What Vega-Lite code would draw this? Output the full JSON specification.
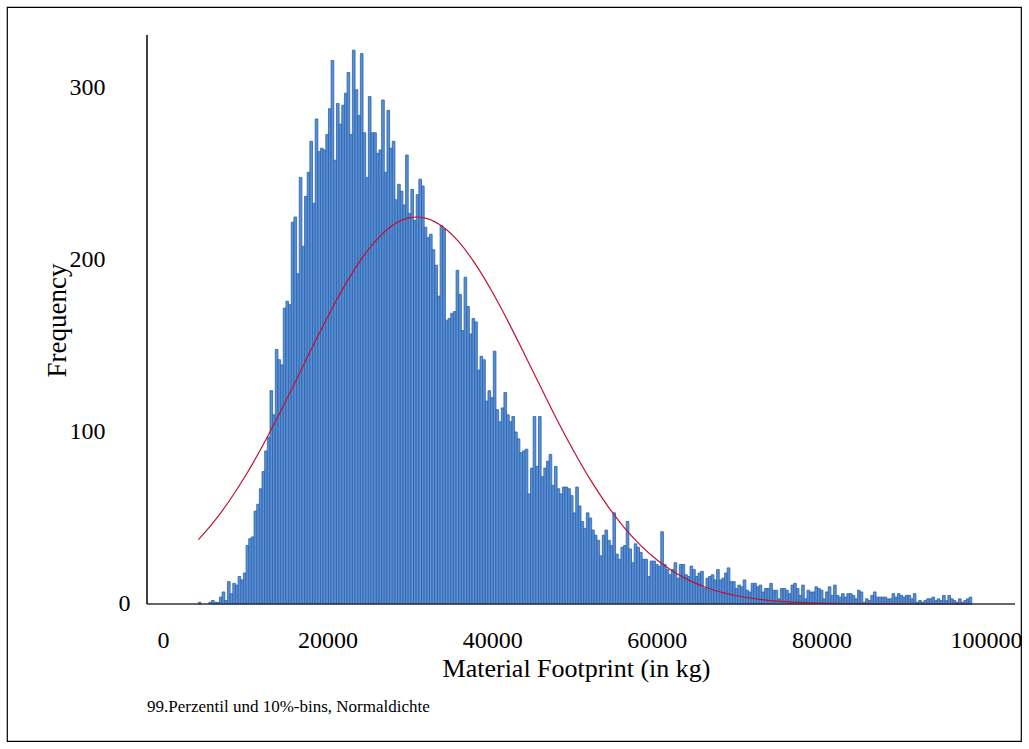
{
"$schema": "https://vega.github.io/schema/vega-lite/v6.json",
"autosize": {"type": "none"},
"padding": {"left": 7, "top": 7, "right": 8, "bottom": 8},
"width": 1014,
"height": 734,
"background": "white",
"config": {"view": {"stroke": "black", "strokeWidth": 1.2}, "font": "Liberation Serif"},
"datasets": {
"bars": [
{"lo":4280,"hi":4603,"n":1},{"lo":5572,"hi":5895,"n":1},{"lo":5895,"hi":6218,"n":2},{"lo":6218,"hi":6541,"n":1},{"lo":6541,"hi":6864,"n":1},{"lo":6864,"hi":7187,"n":4},{"lo":7187,"hi":7510,"n":7},
{"lo":7510,"hi":7833,"n":2},{"lo":7833,"hi":8156,"n":13},{"lo":8156,"hi":8479,"n":6},{"lo":8479,"hi":8802,"n":12},{"lo":8802,"hi":9125,"n":11},{"lo":9125,"hi":9448,"n":16},{"lo":9448,"hi":9771,"n":14},{"lo":9771,"hi":10094,"n":18},{"lo":10094,"hi":10417,"n":34},{"lo":10417,"hi":10740,"n":38},
{"lo":10740,"hi":11063,"n":39},{"lo":11063,"hi":11386,"n":54},{"lo":11386,"hi":11709,"n":58},{"lo":11709,"hi":12032,"n":67},{"lo":12032,"hi":12355,"n":77},{"lo":12355,"hi":12678,"n":89},{"lo":12678,"hi":13001,"n":97},{"lo":13001,"hi":13324,"n":124},{"lo":13324,"hi":13647,"n":110},{"lo":13647,"hi":13970,"n":148},
{"lo":13970,"hi":14293,"n":142},{"lo":14293,"hi":14616,"n":139},{"lo":14616,"hi":14939,"n":172},{"lo":14939,"hi":15262,"n":176},{"lo":15262,"hi":15585,"n":174},{"lo":15585,"hi":15908,"n":222},{"lo":15908,"hi":16231,"n":225},{"lo":16231,"hi":16554,"n":192},{"lo":16554,"hi":16877,"n":248},{"lo":16877,"hi":17200,"n":208},
{"lo":17200,"hi":17523,"n":237},{"lo":17523,"hi":17846,"n":251},{"lo":17846,"hi":18169,"n":269},{"lo":18169,"hi":18492,"n":233},{"lo":18492,"hi":18815,"n":282},{"lo":18815,"hi":19138,"n":263},{"lo":19138,"hi":19461,"n":265},{"lo":19461,"hi":19784,"n":264},{"lo":19784,"hi":20107,"n":273},{"lo":20107,"hi":20430,"n":288},
{"lo":20430,"hi":20753,"n":316},{"lo":20753,"hi":21076,"n":258},{"lo":21076,"hi":21399,"n":291},{"lo":21399,"hi":21722,"n":279},{"lo":21722,"hi":22045,"n":290},{"lo":22045,"hi":22368,"n":297},{"lo":22368,"hi":22691,"n":309},{"lo":22691,"hi":23014,"n":273},{"lo":23014,"hi":23337,"n":322},{"lo":23337,"hi":23660,"n":299},
{"lo":23660,"hi":23983,"n":284},{"lo":23983,"hi":24306,"n":320},{"lo":24306,"hi":24629,"n":274},{"lo":24629,"hi":24952,"n":248},{"lo":24952,"hi":25275,"n":295},{"lo":25275,"hi":25598,"n":274},{"lo":25598,"hi":25921,"n":274},{"lo":25921,"hi":26244,"n":262},{"lo":26244,"hi":26567,"n":264},{"lo":26567,"hi":26890,"n":293},
{"lo":26890,"hi":27213,"n":251},{"lo":27213,"hi":27536,"n":287},{"lo":27536,"hi":27859,"n":265},{"lo":27859,"hi":28182,"n":269},{"lo":28182,"hi":28505,"n":235},{"lo":28505,"hi":28828,"n":244},{"lo":28828,"hi":29151,"n":240},{"lo":29151,"hi":29474,"n":232},{"lo":29474,"hi":29797,"n":261},{"lo":29797,"hi":30120,"n":227},
{"lo":30120,"hi":30443,"n":241},{"lo":30443,"hi":30766,"n":223},{"lo":30766,"hi":31089,"n":238},{"lo":31089,"hi":31412,"n":247},{"lo":31412,"hi":31735,"n":243},{"lo":31735,"hi":32058,"n":219},{"lo":32058,"hi":32381,"n":213},{"lo":32381,"hi":32704,"n":215},{"lo":32704,"hi":33027,"n":206},{"lo":33027,"hi":33350,"n":197},
{"lo":33350,"hi":33673,"n":179},{"lo":33673,"hi":33996,"n":220},{"lo":33996,"hi":34319,"n":218},{"lo":34319,"hi":34642,"n":165},{"lo":34642,"hi":34965,"n":166},{"lo":34965,"hi":35288,"n":169},{"lo":35288,"hi":35611,"n":170},{"lo":35611,"hi":35934,"n":194},{"lo":35934,"hi":36257,"n":180},{"lo":36257,"hi":36580,"n":159},
{"lo":36580,"hi":36903,"n":190},{"lo":36903,"hi":37226,"n":173},{"lo":37226,"hi":37549,"n":157},{"lo":37549,"hi":37872,"n":166},{"lo":37872,"hi":38195,"n":164},{"lo":38195,"hi":38518,"n":136},{"lo":38518,"hi":38841,"n":144},{"lo":38841,"hi":39164,"n":142},{"lo":39164,"hi":39487,"n":118},{"lo":39487,"hi":39810,"n":124},
{"lo":39810,"hi":40133,"n":120},{"lo":40133,"hi":40456,"n":147},{"lo":40456,"hi":40779,"n":113},{"lo":40779,"hi":41102,"n":106},{"lo":41102,"hi":41425,"n":114},{"lo":41425,"hi":41748,"n":123},{"lo":41748,"hi":42071,"n":110},{"lo":42071,"hi":42394,"n":106},{"lo":42394,"hi":42717,"n":109},{"lo":42717,"hi":43040,"n":100},
{"lo":43040,"hi":43363,"n":96},{"lo":43363,"hi":43686,"n":88},{"lo":43686,"hi":44009,"n":89},{"lo":44009,"hi":44332,"n":90},{"lo":44332,"hi":44655,"n":64},{"lo":44655,"hi":44978,"n":79},{"lo":44978,"hi":45301,"n":109},{"lo":45301,"hi":45624,"n":80},{"lo":45624,"hi":45947,"n":109},{"lo":45947,"hi":46270,"n":74},
{"lo":46270,"hi":46593,"n":79},{"lo":46593,"hi":46916,"n":83},{"lo":46916,"hi":47239,"n":87},{"lo":47239,"hi":47562,"n":69},{"lo":47562,"hi":47885,"n":80},{"lo":47885,"hi":48208,"n":67},{"lo":48208,"hi":48531,"n":64},{"lo":48531,"hi":48854,"n":68},{"lo":48854,"hi":49177,"n":68},{"lo":49177,"hi":49500,"n":67},
{"lo":49500,"hi":49823,"n":63},{"lo":49823,"hi":50146,"n":53},{"lo":50146,"hi":50469,"n":68},{"lo":50469,"hi":50792,"n":57},{"lo":50792,"hi":51115,"n":48},{"lo":51115,"hi":51438,"n":44},{"lo":51438,"hi":51761,"n":53},{"lo":51761,"hi":52084,"n":50},{"lo":52084,"hi":52407,"n":43},{"lo":52407,"hi":52730,"n":40},
{"lo":52730,"hi":53053,"n":37},{"lo":53053,"hi":53376,"n":28},{"lo":53376,"hi":53699,"n":40},{"lo":53699,"hi":54022,"n":43},{"lo":54022,"hi":54345,"n":37},{"lo":54345,"hi":54668,"n":34},{"lo":54668,"hi":54991,"n":53},{"lo":54991,"hi":55314,"n":29},{"lo":55314,"hi":55637,"n":26},{"lo":55637,"hi":55960,"n":33},
{"lo":55960,"hi":56283,"n":34},{"lo":56283,"hi":56606,"n":48},{"lo":56606,"hi":56929,"n":32},{"lo":56929,"hi":57252,"n":24},{"lo":57252,"hi":57575,"n":35},{"lo":57575,"hi":57898,"n":33},{"lo":57898,"hi":58221,"n":30},{"lo":58221,"hi":58544,"n":26},{"lo":58544,"hi":58867,"n":26},{"lo":58867,"hi":59190,"n":16},
{"lo":59190,"hi":59513,"n":25},{"lo":59513,"hi":59836,"n":25},{"lo":59836,"hi":60159,"n":23},{"lo":60159,"hi":60482,"n":22},{"lo":60482,"hi":60805,"n":42},{"lo":60805,"hi":61128,"n":23},{"lo":61128,"hi":61451,"n":20},{"lo":61451,"hi":61774,"n":17},{"lo":61774,"hi":62097,"n":20},{"lo":62097,"hi":62420,"n":24},
{"lo":62420,"hi":62743,"n":15},{"lo":62743,"hi":63066,"n":23},{"lo":63066,"hi":63389,"n":23},{"lo":63389,"hi":63712,"n":17},{"lo":63712,"hi":64035,"n":16},{"lo":64035,"hi":64358,"n":22},{"lo":64358,"hi":64681,"n":20},{"lo":64681,"hi":65004,"n":16},{"lo":65004,"hi":65327,"n":18},{"lo":65327,"hi":65650,"n":19},
{"lo":65650,"hi":65973,"n":9},{"lo":65973,"hi":66296,"n":15},{"lo":66296,"hi":66619,"n":16},{"lo":66619,"hi":66942,"n":17},{"lo":66942,"hi":67265,"n":14},{"lo":67265,"hi":67588,"n":20},{"lo":67588,"hi":67911,"n":14},{"lo":67911,"hi":68234,"n":15},{"lo":68234,"hi":68557,"n":18},{"lo":68557,"hi":68880,"n":21},
{"lo":68880,"hi":69203,"n":13},{"lo":69203,"hi":69526,"n":13},{"lo":69526,"hi":69849,"n":9},{"lo":69849,"hi":70172,"n":11},{"lo":70172,"hi":70495,"n":10},{"lo":70495,"hi":70818,"n":14},{"lo":70818,"hi":71141,"n":8},{"lo":71141,"hi":71464,"n":7},{"lo":71464,"hi":71787,"n":12},{"lo":71787,"hi":72110,"n":12},
{"lo":72110,"hi":72433,"n":10},{"lo":72433,"hi":72756,"n":11},{"lo":72756,"hi":73079,"n":7},{"lo":73079,"hi":73402,"n":9},{"lo":73402,"hi":73725,"n":9},{"lo":73725,"hi":74048,"n":12},{"lo":74048,"hi":74371,"n":8},{"lo":74371,"hi":74694,"n":8},{"lo":74694,"hi":75017,"n":3},{"lo":75017,"hi":75340,"n":9},
{"lo":75340,"hi":75663,"n":9},{"lo":75663,"hi":75986,"n":8},{"lo":75986,"hi":76309,"n":6},{"lo":76309,"hi":76632,"n":11},{"lo":76632,"hi":76955,"n":12},{"lo":76955,"hi":77278,"n":9},{"lo":77278,"hi":77601,"n":5},{"lo":77601,"hi":77924,"n":11},{"lo":77924,"hi":78247,"n":3},{"lo":78247,"hi":78570,"n":8},
{"lo":78570,"hi":78893,"n":7},{"lo":78893,"hi":79216,"n":7},{"lo":79216,"hi":79539,"n":10},{"lo":79539,"hi":79862,"n":9},{"lo":79862,"hi":80185,"n":8},{"lo":80185,"hi":80508,"n":3},{"lo":80508,"hi":80831,"n":7},{"lo":80831,"hi":81154,"n":10},{"lo":81154,"hi":81477,"n":5},{"lo":81477,"hi":81800,"n":11},
{"lo":81800,"hi":82123,"n":5},{"lo":82123,"hi":82446,"n":4},{"lo":82446,"hi":82769,"n":6},{"lo":82769,"hi":83092,"n":4},{"lo":83092,"hi":83415,"n":6},{"lo":83415,"hi":83738,"n":6},{"lo":83738,"hi":84061,"n":5},{"lo":84061,"hi":84384,"n":3},{"lo":84384,"hi":84707,"n":8},{"lo":84707,"hi":85030,"n":7},
{"lo":85030,"hi":85353,"n":1},{"lo":85353,"hi":85676,"n":3},{"lo":85676,"hi":85999,"n":2},{"lo":85999,"hi":86322,"n":5},{"lo":86322,"hi":86645,"n":7},{"lo":86645,"hi":86968,"n":4},{"lo":86968,"hi":87291,"n":4},{"lo":87291,"hi":87614,"n":4},{"lo":87614,"hi":87937,"n":4},{"lo":87937,"hi":88260,"n":3},
{"lo":88260,"hi":88583,"n":3},{"lo":88583,"hi":88906,"n":6},{"lo":88906,"hi":89229,"n":4},{"lo":89229,"hi":89552,"n":6},{"lo":89552,"hi":89875,"n":5},{"lo":89875,"hi":90198,"n":4},{"lo":90198,"hi":90521,"n":5},{"lo":90521,"hi":90844,"n":5},{"lo":90844,"hi":91167,"n":3},{"lo":91167,"hi":91490,"n":6},
{"lo":91490,"hi":91813,"n":1},{"lo":91813,"hi":92136,"n":2},{"lo":92136,"hi":92459,"n":1},{"lo":92459,"hi":92782,"n":2},{"lo":92782,"hi":93105,"n":3},{"lo":93105,"hi":93428,"n":3},{"lo":93428,"hi":93751,"n":4},{"lo":93751,"hi":94074,"n":2},{"lo":94074,"hi":94397,"n":3},{"lo":94397,"hi":94720,"n":2},
{"lo":94720,"hi":95043,"n":5},{"lo":95043,"hi":95366,"n":2},{"lo":95366,"hi":95689,"n":5},{"lo":95689,"hi":96012,"n":3},{"lo":96012,"hi":96335,"n":2},{"lo":96335,"hi":96658,"n":1},{"lo":96658,"hi":96981,"n":3},{"lo":96981,"hi":97304,"n":1},{"lo":97304,"hi":97627,"n":2},{"lo":97627,"hi":97950,"n":3},
{"lo":97950,"hi":98273,"n":4}
],
"curve": [
{"x":4300,"y":37.4},{"x":6000,"y":46.7},{"x":8000,"y":59.6},{"x":10000,"y":74.4},{"x":12000,"y":91.1},{"x":14000,"y":109.3},{"x":16000,"y":128.4},{"x":18000,"y":147.9},{"x":20000,"y":166.9},{"x":22000,"y":184.5},{"x":24000,"y":199.8},{"x":26000,"y":212.0},{"x":28000,"y":220.5},{"x":30000,"y":224.6},{"x":30826,"y":225.0},{"x":32000,"y":224.2},{"x":34000,"y":219.3},{"x":36000,"y":210.2},{"x":38000,"y":197.3},{"x":40000,"y":181.5},{"x":42000,"y":163.6},{"x":44000,"y":144.5},{"x":46000,"y":125.1},{"x":48000,"y":106.0},{"x":50000,"y":88.1},{"x":52000,"y":71.7},{"x":54000,"y":57.2},{"x":56000,"y":44.7},{"x":58000,"y":34.2},{"x":60000,"y":25.7},{"x":62000,"y":18.9},{"x":64000,"y":13.6},{"x":66000,"y":9.6},{"x":68000,"y":6.6},{"x":70000,"y":4.5},{"x":72000,"y":3.0},{"x":75000,"y":1.55},{"x":78000,"y":0.77},{"x":81000,"y":0.37},{"x":84000,"y":0.17},{"x":88000,"y":0.05},{"x":92000,"y":0.01},{"x":98273,"y":0}
],
"xline": [{"a":-1944,"b":103524,"v":0}],
"yline": [{"a":-1944,"v0":0,"v1":330.8}],
"zero": [{"a":-4678,"v":0,"t":"0"}],
"note": [{"a":-1944,"v":-59.9,"t":"99.Perzentil und 10%-bins, Normaldichte"}]
},
"layer": [
{
"data": {"name": "bars"},
"mark": {"type": "rect", "fill": "#5b8fd3", "stroke": "#2a62ad", "strokeWidth": 0.8},
"encoding": {
"x": {"field": "lo", "type": "quantitative", "title": "Material Footprint (in kg)",
"scale": {"domain": [-18955, 104253], "nice": false, "zero": false},
"axis": {"values": [0, 20000, 40000, 60000, 80000, 100000], "format": "d", "offset": -137, "domain": false, "ticks": false, "grid": false, "labelFontSize": 24, "labelColor": "black", "labelFont": "Liberation Serif", "labelPadding": 24, "labelFlush": false, "labelOverlap": false, "titleFont": "Liberation Serif", "titleFontSize": 26, "titleFontWeight": "normal", "titleColor": "black", "titleX": 569, "titleY": 64, "titleBaseline": "middle", "titleAnchor": null}},
"x2": {"field": "hi"},
"y": {"field": "n", "type": "quantitative", "title": "Frequency",
"scale": {"domain": [-79.65, 347.09], "nice": false, "zero": false},
"axis": {"values": [100, 200, 300], "offset": -140, "domain": false, "ticks": false, "grid": false, "labelFontSize": 24, "labelColor": "black", "labelFont": "Liberation Serif", "labelPadding": 42, "labelFlush": false, "labelOverlap": false, "titleFont": "Liberation Serif", "titleFontSize": 27, "titleFontWeight": "normal", "titleColor": "black", "titleX": -90, "titleY": 313, "titleBaseline": "middle", "titleAlign": "center", "titleAngle": 270}},
"y2": {"datum": 0}
}
},
{
"data": {"name": "curve"},
"mark": {"type": "line", "stroke": "#c0122f", "strokeWidth": 1.2, "interpolate": "monotone"},
"encoding": {
"x": {"field": "x", "type": "quantitative", "title": "Material Footprint (in kg)"},
"y": {"field": "y", "type": "quantitative", "title": "Frequency"}
}
},
{
"data": {"name": "xline"},
"mark": {"type": "rule", "stroke": "#333333", "strokeWidth": 1.5},
"encoding": {
"x": {"field": "a", "type": "quantitative", "title": "Material Footprint (in kg)"},
"x2": {"field": "b"},
"y": {"field": "v", "type": "quantitative", "title": "Frequency"}
}
},
{
"data": {"name": "yline"},
"mark": {"type": "rule", "stroke": "black", "strokeWidth": 1.5},
"encoding": {
"x": {"field": "a", "type": "quantitative", "title": "Material Footprint (in kg)"},
"y": {"field": "v0", "type": "quantitative", "title": "Frequency"},
"y2": {"field": "v1"}
}
},
{
"data": {"name": "zero"},
"mark": {"type": "text", "align": "center", "baseline": "middle", "font": "Liberation Serif", "fontSize": 24, "color": "black"},
"encoding": {
"x": {"field": "a", "type": "quantitative", "title": "Material Footprint (in kg)"},
"y": {"field": "v", "type": "quantitative", "title": "Frequency"},
"text": {"field": "t"}
}
},
{
"data": {"name": "note"},
"mark": {"type": "text", "align": "left", "baseline": "middle", "font": "Liberation Serif", "fontSize": 17, "color": "black"},
"encoding": {
"x": {"field": "a", "type": "quantitative", "title": "Material Footprint (in kg)"},
"y": {"field": "v", "type": "quantitative", "title": "Frequency"},
"text": {"field": "t"}
}
}
]
}
